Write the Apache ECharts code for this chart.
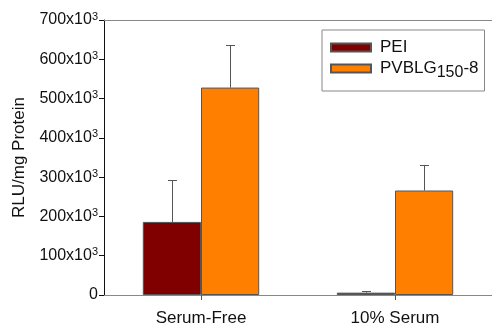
<!DOCTYPE html>
<html><head><meta charset="utf-8">
<script src="https://cdn.jsdelivr.net/npm/echarts@6/dist/echarts.min.js"></script>
<style>html,body{margin:0;padding:0;background:#fff}#c{width:492px;height:327px}</style>
</head><body><div id="c"></div>
<script>
var categories = ['Serum-Free', '10% Serum'];
var peiValues = [186, 6];
var peiErrors = [106, 3];
var pvblgValues = [528, 266];
var pvblgErrors = [108, 66];
var yTicks = [0, 100, 200, 300, 400, 500, 600, 700];

var chart = echarts.init(document.getElementById('c'));
var font = 'Liberation Sans, Arial, sans-serif';

function errSeries(name, vals, errs, offsetIdx) {
  return {
    type: 'custom',
    name: name + '_err',
    silent: true,
    z: 1,
    renderItem: function (params, api) {
      var i = api.value(0);
      var v = api.value(1);
      var e = api.value(2);
      var base = api.coord([i, v]);
      var top = api.coord([i, v + e]);
      var bw = api.size([1, 0])[0];
      var barW = bw * 0.3;
      var x = Math.round(base[0] + (offsetIdx === 0 ? -barW / 2 : barW / 2)) + 0.5;
      var cap = 4.5;
      var ty = Math.round(top[1]) + 0.5;
      return {
        type: 'group',
        children: [
          {type: 'line', shape: {x1: x, y1: base[1], x2: x, y2: ty}, style: {stroke: '#555', lineWidth: 1}},
          {type: 'line', shape: {x1: x - cap, y1: ty, x2: x + cap, y2: ty}, style: {stroke: '#555', lineWidth: 1}}
        ]
      };
    },
    data: vals.map(function (v, i) { return [i, v, errs[i]]; })
  };
}

chart.setOption({
  animation: false,
  grid: {left: 104, top: 20, width: 394, height: 276},
  legend: {
    data: ['PEI', 'PVBLG'],
    orient: 'vertical',
    left: 322, top: 30,
    padding: [9, 6, 10, 8],
    itemGap: 4,
    itemWidth: 40, itemHeight: 8,
    icon: 'rect',
    borderColor: '#888', borderWidth: 1,
    backgroundColor: '#fff',
    textStyle: {
      fontFamily: font, fontSize: 17, color: '#111', padding: [0, 0, 0, 4],
      rich: {
        sub: {fontFamily: font, fontSize: 16, color: '#111', verticalAlign: 'bottom', padding: [9, 0, 0, 0]},
        n: {fontFamily: font, fontSize: 17, color: '#111'}
      }
    },
    formatter: function (n) {
      if (n === 'PVBLG') return '{n|PVBLG}{sub|150}{n|-8}';
      return '{n|' + n + '}';
    }
  },
  xAxis: [{
    type: 'category',
    data: categories,
    axisLine: {lineStyle: {color: '#888', width: 1}},
    axisTick: {show: true, alignWithLabel: true, length: 5, lineStyle: {color: '#555'}},
    axisLabel: {fontFamily: font, fontSize: 17, color: '#111', margin: 15}
  }, {
    type: 'category',
    position: 'top',
    data: categories,
    axisLine: {show: true, lineStyle: {color: '#888', width: 1}},
    axisTick: {show: false},
    axisLabel: {show: false}
  }],
  yAxis: {
    type: 'value',
    min: 0, max: 700, interval: 100,
    name: 'RLU/mg Protein',
    nameLocation: 'middle',
    nameGap: 76,
    nameTextStyle: {fontFamily: font, fontSize: 17, color: '#111'},
    axisLine: {show: true, lineStyle: {color: '#111', width: 1}},
    axisTick: {show: true, length: 5, lineStyle: {color: '#111'}},
    splitLine: {show: false},
    axisLabel: {
      fontFamily: font, fontSize: 16, color: '#111', margin: 6,
      rich: {
        b: {fontFamily: font, fontSize: 16, color: '#111'},
        s: {fontFamily: font, fontSize: 11, color: '#111', verticalAlign: 'top', padding: [0, 0, 7, 0]}
      },
      formatter: function (v) {
        if (yTicks.indexOf(v) < 0) return '';
        if (v === 0) return '{b|0}';
        return '{b|' + v + 'x10}{s|3}';
      }
    }
  },
  series: [
    {name: 'PEI', type: 'bar', data: peiValues, barWidth: '30%', barGap: '0%',
     itemStyle: {color: '#800000', borderColor: '#555', borderWidth: 1}, z: 2},
    {name: 'PVBLG', type: 'bar', data: pvblgValues, barWidth: '30%', barGap: '0%',
     itemStyle: {color: '#FF8000', borderColor: '#555', borderWidth: 1}, z: 2},
    errSeries('PEI', peiValues, peiErrors, 0),
    errSeries('PVBLG', pvblgValues, pvblgErrors, 1)
  ]
});
</script></body></html>
